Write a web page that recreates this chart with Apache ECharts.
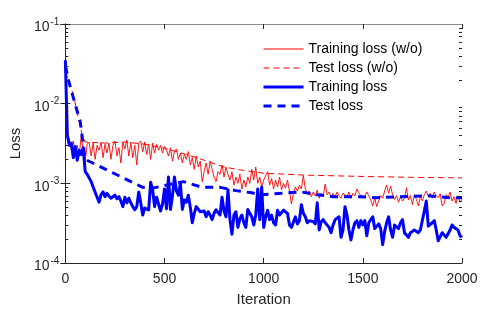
<!DOCTYPE html>
<html>
<head>
<meta charset="utf-8">
<script src="https://cdn.jsdelivr.net/npm/echarts@6/dist/echarts.min.js"></script>
<style>
html,body{margin:0;padding:0;background:#fff;}
#chart{width:491px;height:317px;}
</style>
</head>
<body>
<div id="chart"></div>
<script>
// Training loss without the method (red, thin), one value every 10 iterations
const trainLossWo = [
1.2e-2, 4.5e-3, 3.5e-3, 2.6e-3, 3.4e-3, 2.4e-3, 3.0e-3, 2.2e-3, 4.0e-3, 2.5e-3,
1.9e-3, 3.1e-3, 3.3e-3, 2.2e-3, 3.2e-3, 2.0e-3, 3.0e-3, 2.6e-3, 3.3e-3, 2.1e-3,
3.1e-3, 2.4e-3, 3.2e-3, 2.0e-3, 3.0e-3, 3.4e-3, 2.2e-3, 2.8e-3, 1.8e-3, 3.3e-3,
2.7e-3, 3.5e-3, 2.2e-3, 3.3e-3, 2.1e-3, 3.0e-3, 1.7e-3, 3.2e-3, 3.4e-3, 2.5e-3,
3.3e-3, 2.3e-3, 3.1e-3, 2.0e-3, 3.2e-3, 2.4e-3, 3.1e-3, 2.6e-3, 3.0e-3, 2.4e-3,
2.9e-3, 2.6e-3, 2.2e-3, 2.8e-3, 1.9e-3, 2.5e-3, 2.7e-3, 2.0e-3, 2.4e-3, 1.8e-3,
2.3e-3, 2.0e-3, 2.5e-3, 1.7e-3, 2.1e-3, 1.5e-3, 2.2e-3, 1.6e-3, 1.9e-3, 1.05e-3,
1.4e-3, 1.8e-3, 1.3e-3, 1.9e-3, 1.5e-3, 1.2e-3, 1.05e-3, 1.4e-3, 1.3e-3, 1.7e-3,
1.2e-3, 1.6e-3, 1.3e-3, 1.1e-3, 1.4e-3, 9.5e-4, 1.2e-3, 1.0e-3, 1.3e-3, 8.5e-4,
1.1e-3, 9.0e-4, 1.2e-3, 1.0e-3, 1.5e-3, 1.1e-3, 1.6e-3, 1.0e-3, 1.2e-3, 9.0e-4,
1.1e-3, 1.1e-3, 1.4e-3, 9.5e-4, 1.15e-3, 8.5e-4, 1.1e-3, 9.0e-4, 1.2e-3, 8.3e-4,
1.0e-3, 8.7e-4, 1.1e-3, 8.0e-4, 5.5e-4, 7.5e-4, 9.0e-4, 8.0e-4, 9.5e-4, 8.5e-4,
1.25e-3, 8.5e-4, 7.5e-4, 8.0e-4, 6.8e-4, 7.8e-4, 7.0e-4, 8.2e-4, 6.5e-4, 7.5e-4,
6.8e-4, 9.8e-4, 7.2e-4, 7.8e-4, 6.6e-4, 7.5e-4, 6.8e-4, 7.8e-4, 7.0e-4, 6.5e-4,
7.5e-4, 7.2e-4, 6.8e-4, 7.8e-4, 6.5e-4, 7.5e-4, 7.0e-4, 8.5e-4, 7.6e-4, 7.0e-4,
7.2e-4, 6.8e-4, 7.8e-4, 7.0e-4, 6.2e-4, 5.2e-4, 6.5e-4, 5.1e-4, 6.0e-4, 7.0e-4,
6.5e-4, 8.0e-4, 9.5e-4, 7.5e-4, 9.2e-4, 7.2e-4, 6.3e-4, 7.0e-4, 5.8e-4, 6.8e-4,
6.0e-4, 6.5e-4, 8.8e-4, 6.2e-4, 7.0e-4, 5.4e-4, 7.2e-4, 6.3e-4, 5.2e-4, 6.8e-4,
6.0e-4, 7.2e-4, 8.0e-4, 6.8e-4, 7.5e-4, 6.5e-4, 7.8e-4, 7.0e-4, 6.6e-4, 7.4e-4,
5.2e-4, 5.6e-4, 7.2e-4, 6.6e-4, 7.8e-4, 6.0e-4, 6.8e-4, 5.6e-4, 7.0e-4, 5.8e-4,
6.3e-4
];
// Training loss (blue, thick), one value every 10 iterations
const trainLoss = [
3.5e-2, 4.0e-3, 3.0e-3, 3.2e-3, 2.1e-3, 2.9e-3, 1.95e-3, 2.6e-3, 2.3e-3, 2.8e-3,
1.4e-3, 1.3e-3, 1.3e-3, 1.05e-3, 9.0e-4, 8.5e-4, 6.7e-4, 5.8e-4, 7.2e-4, 7.8e-4,
6.8e-4, 7.5e-4, 6.9e-4, 6.5e-4, 6.2e-4, 7.1e-4, 6.4e-4, 6.8e-4, 6.0e-4, 5.1e-4,
6.7e-4, 5.7e-4, 6.5e-4, 5.7e-4, 5.1e-4, 4.65e-4, 5.1e-4, 7.8e-4, 5.7e-4, 4.0e-4,
4.9e-4, 5.1e-4, 4.65e-4, 1.03e-3, 8.3e-4, 5.1e-4, 6.7e-4, 7.0e-4, 4.5e-4, 5.5e-4,
8.5e-4, 4.8e-4, 1.2e-3, 4.7e-4, 7.0e-4, 1.2e-3, 8.0e-4, 7.1e-4, 1.0e-3, 4.7e-4,
6.2e-4, 5.8e-4, 7.1e-4, 5.0e-4, 3.2e-4, 4.2e-4, 5.1e-4, 5.1e-4, 4.4e-4, 4.3e-4,
4.5e-4, 3.8e-4, 4.4e-4, 4.0e-4, 3.5e-4, 4.2e-4, 4.65e-4, 4.3e-4, 4.0e-4, 6.7e-4,
4.5e-4, 3.8e-4, 8.3e-4, 3.5e-4, 2.3e-4, 4.0e-4, 4.4e-4, 2.8e-4, 3.6e-4, 4.0e-4,
3.2e-4, 2.8e-4, 4.7e-4, 4.2e-4, 3.8e-4, 3.0e-4, 4.0e-4, 8.5e-4, 3.5e-4, 9.0e-4,
2.8e-4, 3.8e-4, 4.6e-4, 3.5e-4, 4.0e-4, 3.2e-4, 3.0e-4, 4.6e-4, 4.0e-4, 3.8e-4,
4.6e-4, 4.5e-4, 4.2e-4, 3.0e-4, 2.8e-4, 2.9e-4, 3.8e-4, 3.1e-4, 3.4e-4, 5.4e-4,
4.2e-4, 3.8e-4, 3.2e-4, 3.4e-4, 3.5e-4, 3.3e-4, 3.1e-4, 5.7e-4, 2.6e-4, 3.3e-4,
3.5e-4, 3.2e-4, 3.3e-4, 2.8e-4, 2.4e-4, 3.0e-4, 3.5e-4, 3.4e-4, 3.8e-4, 2.1e-4,
2.6e-4, 5.1e-4, 4.0e-4, 2.6e-4, 1.95e-4, 2.6e-4, 3.2e-4, 3.4e-4, 2.8e-4, 3.4e-4,
3.0e-4, 3.4e-4, 2.2e-4, 3.2e-4, 3.5e-4, 3.8e-4, 2.7e-4, 2.6e-4, 3.1e-4, 2.7e-4,
1.7e-4, 2.5e-4, 3.2e-4, 3.8e-4, 2.6e-4, 2.1e-4, 3.0e-4, 3.1e-4, 2.7e-4, 3.2e-4,
3.5e-4, 2.4e-4, 2.4e-4, 2.1e-4, 2.4e-4, 2.4e-4, 2.6e-4, 2.5e-4, 2.4e-4, 2.6e-4,
2.5e-4, 4.5e-4, 6.0e-4, 2.9e-4, 2.8e-4, 3.2e-4, 3.4e-4, 2.6e-4, 1.9e-4, 1.8e-4,
2.4e-4, 2.3e-4, 2.1e-4, 2.2e-4, 2.6e-4, 3.0e-4, 2.8e-4, 2.7e-4, 2.6e-4, 2.2e-4,
2.1e-4
];
const trainStep = 10;
// Test loss without the method (red dashed)
const testIterWo = [0, 40, 85, 100, 200, 300, 400, 500, 600, 700, 800, 900, 1000, 1200, 1500, 1750, 2000];
const testLossWo = [2.5e-2, 1.3e-2, 4.0e-3, 3.3e-3, 3.2e-3, 3.3e-3, 3.1e-3, 2.75e-3, 2.35e-3, 1.95e-3, 1.6e-3, 1.45e-3, 1.34e-3, 1.27e-3, 1.22e-3, 1.19e-3, 1.17e-3];
// Test loss (blue dashed)
const testIter = [0, 15, 45, 75, 100, 390, 440, 560, 595, 690, 780, 860, 940, 985, 1190, 1270, 1350, 1480, 1570, 1690, 1830, 1940, 2000];
const testLoss = [3.0e-2, 2.0e-2, 1.08e-2, 5.9e-3, 2.0e-3, 8.9e-4, 8.7e-4, 1.01e-3, 1.05e-3, 8.9e-4, 8.9e-4, 8.1e-4, 7.6e-4, 7.2e-4, 7.8e-4, 7.2e-4, 6.8e-4, 6.8e-4, 6.6e-4, 6.8e-4, 7.0e-4, 6.6e-4, 6.6e-4];
const yDecades = [-4, -3, -2, -1];
const seriesNames = ['Training loss (w/o)', 'Test loss (w/o)', 'Training loss', 'Test loss'];

const X_MIN = 0, X_MAX = 2000, X_STEP = 500;
const Y_MIN = Math.pow(10, yDecades[0]), Y_MAX = Math.pow(10, yDecades[yDecades.length - 1]);
const FONT = "'Liberation Sans', Arial, Helvetica, sans-serif";
const AX = '#262626';
const RED = '#ff0000', BLUE = '#0000ff';
const RED_DASH = [6, 4], BLUE_DASH = [8, 6];

const pairs = (xs, ys) => ys.map((v, i) => [xs[i], v]);
const stepPairs = (ys) => ys.map((v, i) => [i * trainStep, v]);

// minor ticks on log axis: 2..9 x 10^k
const minorVals = [];
for (let k = yDecades[0]; k < yDecades[yDecades.length - 1]; k++) {
  for (let m = 2; m <= 9; m++) minorVals.push([X_MIN, m * Math.pow(10, k)]);
}

const chart = echarts.init(document.getElementById('chart'), null, {renderer: 'canvas'});

const axisCommon = {
  axisLine: {show: true, lineStyle: {color: AX, width: 1}},
  axisTick: {show: true, inside: true, length: 5, lineStyle: {color: AX, width: 1}},
  splitLine: {show: false}
};

chart.setOption({
  animation: false,
  backgroundColor: '#fff',
  textStyle: {fontFamily: FONT},
  grid: {left: 61, right: 29, top: 24, bottom: 54, containLabel: false},
  legend: {
    orient: 'vertical',
    left: 257,
    top: 37,
    itemWidth: 40,
    itemHeight: 14,
    itemGap: 5,
    data: [
      {name: seriesNames[0], lineStyle: {color: RED, width: 1, type: 'solid'}},
      {name: seriesNames[1], lineStyle: {color: RED, width: 1, type: RED_DASH}},
      {name: seriesNames[2], lineStyle: {color: BLUE, width: 3, type: 'solid'}},
      {name: seriesNames[3], lineStyle: {color: BLUE, width: 3, type: BLUE_DASH}}
    ],
    itemStyle: {opacity: 0},
    textStyle: {fontSize: 14, color: '#000', fontFamily: FONT},
    selectedMode: false
  },
  xAxis: [
    Object.assign({}, axisCommon, {
      type: 'value', min: X_MIN, max: X_MAX, interval: X_STEP,
      name: 'Iteration', nameLocation: 'middle', nameGap: 29,
      nameTextStyle: {fontSize: 15, color: AX, fontFamily: FONT},
      axisLabel: {fontSize: 14, color: AX, margin: 9, fontFamily: FONT,
        formatter: (v) => String(v)}
    }),
    Object.assign({}, axisCommon, {
      type: 'value', min: X_MIN, max: X_MAX, interval: X_STEP, position: 'top',
      axisLine: {show: true, lineStyle: {color: '#8c8c8c', width: 1}},
      axisLabel: {show: false}
    })
  ],
  yAxis: [
    Object.assign({}, axisCommon, {
      type: 'log', logBase: 10, min: Y_MIN, max: Y_MAX, splitNumber: 3,
      name: 'Loss', nameLocation: 'middle', nameGap: 34, nameRotate: 90,
      nameTextStyle: {fontSize: 15, color: AX, fontFamily: FONT},
      axisLabel: {
        margin: 6, color: AX,
        formatter: function (v) {
          const e = Math.round(Math.log10(v));
          return '{b|10}{s|' + e + '}';
        },
        rich: {
          b: {fontSize: 14, color: AX, fontFamily: FONT, padding: [7, 0, 0, 0]},
          s: {fontSize: 10, color: AX, fontFamily: FONT, padding: [0, 0, 4, 1]}
        }
      }
    }),
    Object.assign({}, axisCommon, {
      type: 'log', logBase: 10, min: Y_MIN, max: Y_MAX, splitNumber: 3, position: 'right',
      axisLabel: {show: false}
    })
  ],
  series: [
    {
      name: seriesNames[0], type: 'line', data: stepPairs(trainLossWo),
      showSymbol: false, symbol: 'none', z: 2,
      lineStyle: {color: RED, width: 0.9, type: 'solid'},
      itemStyle: {color: RED}
    },
    {
      name: seriesNames[1], type: 'line', data: pairs(testIterWo, testLossWo),
      showSymbol: false, symbol: 'none', z: 3,
      lineStyle: {color: RED, width: 1, type: RED_DASH},
      itemStyle: {color: RED}
    },
    {
      name: seriesNames[2], type: 'line', data: stepPairs(trainLoss),
      showSymbol: false, symbol: 'none', z: 4,
      lineStyle: {color: BLUE, width: 3, type: 'solid', join: 'round'},
      itemStyle: {color: BLUE}
    },
    {
      name: seriesNames[3], type: 'line', data: pairs(testIter, testLoss),
      showSymbol: false, symbol: 'none', z: 5,
      lineStyle: {color: BLUE, width: 3, type: BLUE_DASH},
      itemStyle: {color: BLUE}
    },
    {
      name: 'minorTicks', type: 'custom', data: minorVals, silent: true, z: 6,
      xAxisIndex: 0, yAxisIndex: 0,
      renderItem: function (params, api) {
        const v = api.value(1);
        const pL = api.coord([X_MIN, v]);
        const pR = api.coord([X_MAX, v]);
        const st = {stroke: AX, lineWidth: 1};
        return {
          type: 'group',
          children: [
            {type: 'line', shape: {x1: pL[0], y1: Math.round(pL[1]) + 0.5, x2: pL[0] + 3, y2: Math.round(pL[1]) + 0.5}, style: st},
            {type: 'line', shape: {x1: pR[0] - 3, y1: Math.round(pR[1]) + 0.5, x2: pR[0], y2: Math.round(pR[1]) + 0.5}, style: st}
          ]
        };
      }
    }
  ]
});
</script>
</body>
</html>
